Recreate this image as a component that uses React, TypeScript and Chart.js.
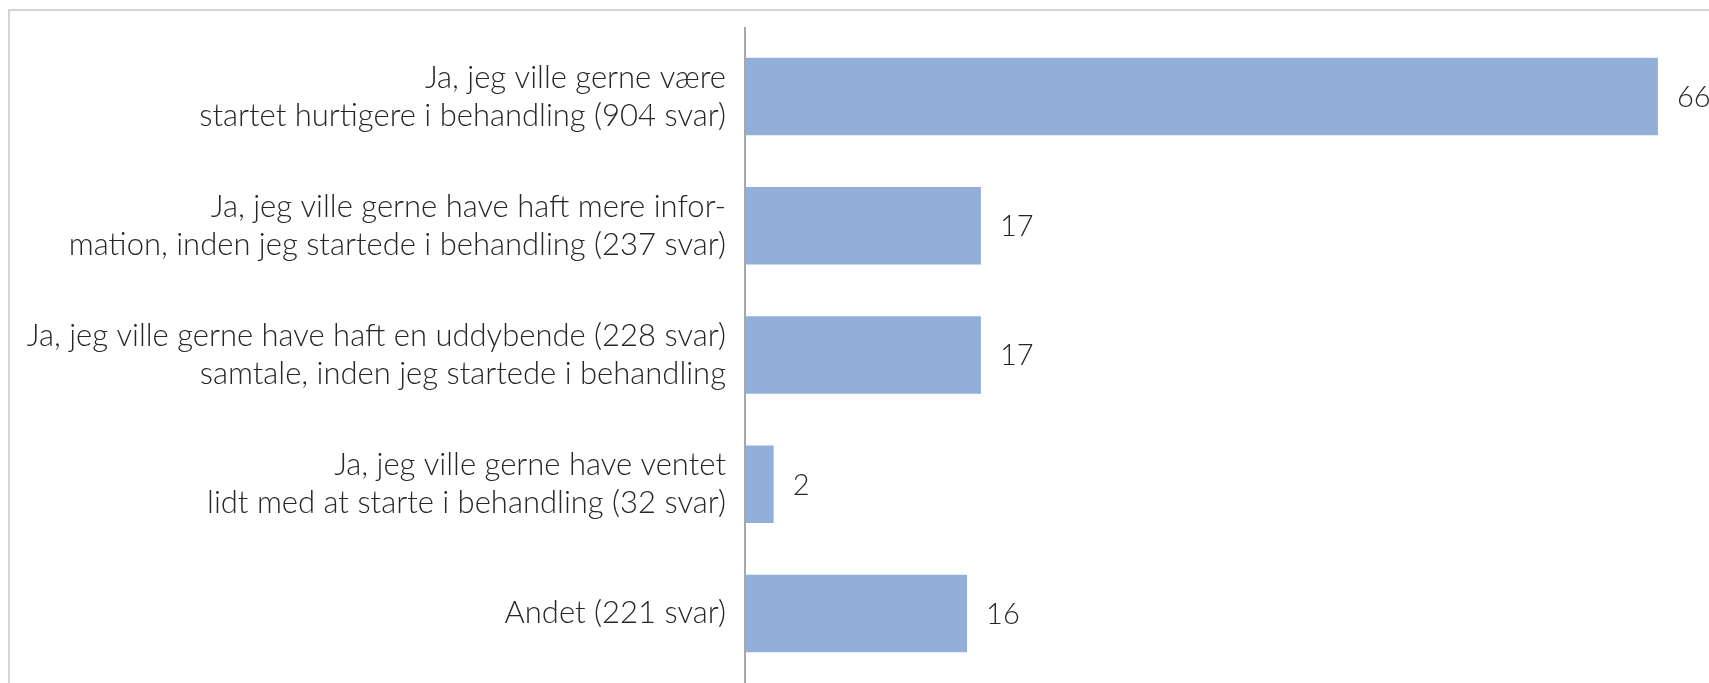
import React, { useEffect, useRef } from "react";
import { Chart, registerables } from "chart.js";

Chart.register(...registerables);

const categories: string[][] = [
  ["Ja, jeg ville gerne være", "startet hurtigere i behandling (904 svar)"],
  ["Ja, jeg ville gerne have haft mere infor-", "mation, inden jeg startede i behandling (237 svar)"],
  ["Ja, jeg ville gerne have haft en uddybende (228 svar)", "samtale, inden jeg startede i behandling"],
  ["Ja, jeg ville gerne have ventet", "lidt med at starte i behandling (32 svar)"],
  ["Andet (221 svar)"],
];
const values: number[] = [66, 17, 17, 2, 16];

const FONT_FAMILY = "Lato, 'Open Sans', sans-serif";
const TEXT_COLOR = "#262626";
const BAR_COLOR = "#91AFD8";

export default function App() {
  const ref = useRef<HTMLCanvasElement | null>(null);

  useEffect(() => {
    document.body.style.margin = "0";
    document.body.style.overflow = "hidden";
    const canvas = ref.current;
    if (!canvas) return;

    const framePlugin = {
      id: "frame",
      beforeDraw(chart: any) {
        const ctx = chart.ctx;
        ctx.save();
        ctx.fillStyle = "#ffffff";
        ctx.fillRect(0, 0, chart.width, chart.height);
        ctx.strokeStyle = "#d4d4d4";
        ctx.lineWidth = 2;
        ctx.strokeRect(9, 10, chart.width + 20, chart.height + 20);
        ctx.restore();
      },
      afterDatasetsDraw(chart: any) {
        const ctx = chart.ctx;
        const area = chart.chartArea;
        ctx.save();
        ctx.strokeStyle = "#a5a8ab";
        ctx.lineWidth = 2;
        ctx.beginPath();
        ctx.moveTo(area.left - 1, area.top - 5);
        ctx.lineTo(area.left - 1, chart.height);
        ctx.stroke();
        const meta = chart.getDatasetMeta(0);
        ctx.fillStyle = TEXT_COLOR;
        ctx.font = `300 29px ${FONT_FAMILY}`;
        ctx.textAlign = "left";
        ctx.textBaseline = "middle";
        meta.data.forEach((bar: any, i: number) => {
          ctx.fillText(String(values[i]), bar.x + 19, bar.y + 1);
        });
        ctx.restore();
      },
    };

    const chart = new Chart(canvas, {
      type: "bar",
      data: {
        labels: categories as any,
        datasets: [
          {
            data: values,
            backgroundColor: BAR_COLOR,
            borderWidth: 0,
            categoryPercentage: 0.6,
            barPercentage: 1,
          },
        ],
      },
      options: {
        indexAxis: "y",
        animation: false,
        responsive: false,
        maintainAspectRatio: false,
        layout: { padding: { top: 32, bottom: 5, left: 0, right: 0 } },
        plugins: {
          legend: { display: false },
          tooltip: { enabled: false },
        },
        scales: {
          x: {
            display: false,
            min: 0,
            max: 69.7,
          },
          y: {
            grid: { display: false },
            border: { display: false },
            afterFit: (scale: any) => {
              scale.width = 746;
              scale.paddingTop = 0;
              scale.paddingBottom = 0;
            },
            ticks: {
              color: TEXT_COLOR,
              padding: 12,
              font: { family: FONT_FAMILY, size: 31, weight: "300" as any, lineHeight: "38px" as any },
            },
          },
        },
      },
      plugins: [framePlugin],
    });

    return () => chart.destroy();
  }, []);

  return (
    <div style={{ width: 1709, height: 683 }}>
      <canvas ref={ref} width={1709} height={683} style={{ display: "block" }} />
    </div>
  );
}
